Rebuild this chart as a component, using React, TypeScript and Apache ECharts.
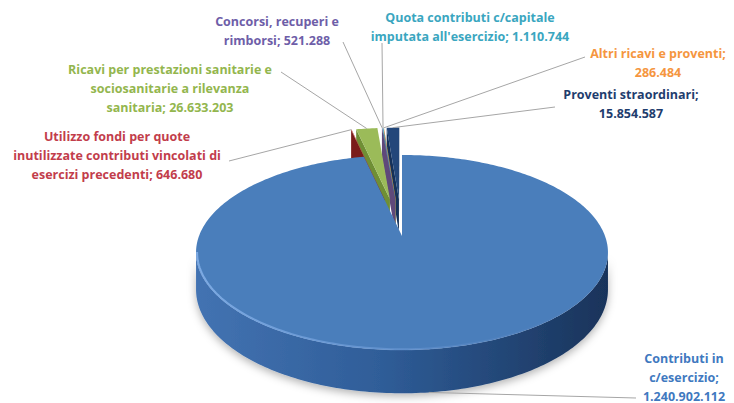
import React, { useEffect, useRef } from "react";
import * as echarts from "echarts";

// ---- data ----
const categories: string[] = [
  "Contributi in c/esercizio",
  "Utilizzo fondi per quote inutilizzate contributi vincolati di esercizi precedenti",
  "Ricavi per prestazioni sanitarie e sociosanitarie a rilevanza sanitaria",
  "Concorsi, recuperi e rimborsi",
  "Quota contributi c/capitale imputata all'esercizio",
  "Altri ricavi e proventi",
  "Proventi straordinari",
];
const values: number[] = [1240902112, 646680, 26633203, 521288, 1110744, 286484, 15854587];

// wrapped label names (as in the chart) and separator before the value
const labelNames: string[] = [
  "Contributi in\nc/esercizio;",
  "Utilizzo fondi per quote\ninutilizzate contributi vincolati di\nesercizi precedenti;",
  "Ricavi per prestazioni sanitarie e\nsociosanitarie a rilevanza\nsanitaria;",
  "Concorsi, recuperi e\nrimborsi;",
  "Quota contributi c/capitale\nimputata all'esercizio;",
  "Altri ricavi e proventi;",
  "Proventi straordinari;",
];
const valueSeparators: string[] = ["\n", " ", " ", " ", " ", "\n", "\n"];

// ---- styles / layout ----
const topColors = ["#4A7EBB", "#C0504D", "#9BBB59", "#8064A2", "#4BACC6", "#F79646", "#23477A"];
const sideColors = ["#2F5D98", "#7A1C1A", "#6F8F35", "#5F497A", "#31859C", "#E46C0A", "#15325A"];
const labelColors = ["#3F79BF", "#C23D4B", "#93B64E", "#6E5EA8", "#3AA6C0", "#F5963F", "#1F3D6E"];
// label centre x, first line middle y, leader start x,y
const labelLayout: number[][] = [
  [684, 358, 636, 398],
  [117, 136, 229, 161],
  [170, 69, 281, 72],
  [277, 21, 343, 42],
  [470, 17, 382, 43],
  [658, 53, 585, 57],
  [631, 94, 555, 107],
];

const CX = 402, CY = 236, BX = 203, AY = 94.7, KP = 0.169, DEPTH = 36, EXPLODE = 0.42;
const LINE_H = 19;

function project(u: number, v: number, h: number): [number, number] {
  const d = 1 - KP * v;
  return [CX + (BX * u) / d, CY + (AY * v + DEPTH * h) / d];
}

function fmt(v: number): string {
  return String(v).replace(/\B(?=(\d{3})+(?!\d))/g, ".");
}

export default function App() {
  const ref = useRef<HTMLDivElement>(null);
  useEffect(() => {
    if (!ref.current) return;
    const chart = echarts.init(ref.current, undefined, { renderer: "svg" });
    const total = values.reduce((a, b) => a + b, 0);
    const angles: number[][] = [];
    let acc = 0;
    values.forEach((v) => {
      angles.push([(acc / total) * Math.PI * 2, ((acc + v) / total) * Math.PI * 2]);
      acc += v;
    });

    const renderItem = (params: any, api: any) => {
      const i = params.dataIndex;
      const [a0, a1] = angles[i];
      const mid = (a0 + a1) / 2;
      const e = i === 0 ? 0 : EXPLODE;
      const ou = e * Math.sin(mid), ov = -e * Math.cos(mid);
      const P = (th: number, r: number, h: number) =>
        project(r * Math.sin(th) + ou, -r * Math.cos(th) + ov, h);
      const n = Math.max(2, Math.ceil((a1 - a0) / (Math.PI / 180)));
      const ths: number[] = [];
      for (let j = 0; j <= n; j++) ths.push(a0 + ((a1 - a0) * j) / n);
      const big = i === 0;
      const sideZ = big ? 50 : 10 + (10 - i);
      const topZ = big ? 60 : 30 + i;
      const children: any[] = [];

      // outer wall visible runs
      const runs: number[][] = [];
      let cur: number[] | null = null;
      for (let j = 0; j < n; j++) {
        const t0 = P(ths[j], 1, 0), t1 = P(ths[j + 1], 1, 0), b0 = P(ths[j], 1, 1);
        const cross = (t1[0] - t0[0]) * (b0[1] - t0[1]) - (t1[1] - t0[1]) * (b0[0] - t0[0]);
        if (cross < 0) {
          if (!cur) { cur = [j]; runs.push(cur); }
          cur.push(j + 1);
        } else cur = null;
      }
      runs.forEach((run) => {
        const pts: number[][] = [];
        run.forEach((j) => pts.push(P(ths[j], 1, 0)));
        for (let q = run.length - 1; q >= 0; q--) pts.push(P(ths[run[q]], 1, 1));
        children.push({
          type: "polygon",
          z2: sideZ,
          shape: { points: pts },
          style: {
            fill: big
              ? new echarts.graphic.LinearGradient(0, 0, 1, 0, [
                  { offset: 0, color: "#4373B2" },
                  { offset: 0.45, color: "#2F5D98" },
                  { offset: 1, color: "#19335A" },
                ])
              : sideColors[i],
            shadowBlur: big ? 8 : 0,
            shadowOffsetY: big ? 3 : 0,
            shadowColor: "rgba(0,0,0,0.3)",
          },
        });
        if (big) {
          children.push({
            type: "polyline",
            z2: topZ + 1,
            shape: { points: run.map((j) => P(ths[j], 0.995, 0)) },
            style: {
              fill: null,
              lineWidth: 2,
              stroke: new echarts.graphic.LinearGradient(0, 0, 1, 0, [
                { offset: 0, color: "rgba(130,175,232,0.9)" },
                { offset: 0.5, color: "rgba(110,155,215,0.6)" },
                { offset: 1, color: "rgba(80,120,180,0)" },
              ]),
            },
          });
        }
      });

      // radial faces
      const C0 = project(ou, ov, 0), C1 = project(ou, ov, 1);
      const down = [C1[0] - C0[0], C1[1] - C0[1]];
      [a0, a1].forEach((a, k) => {
        const Pt = P(a, 1, 0), Pb = P(a, 1, 1);
        const vec = k === 0 ? [Pt[0] - C0[0], Pt[1] - C0[1]] : [C0[0] - Pt[0], C0[1] - Pt[1]];
        const cross = vec[0] * down[1] - vec[1] * down[0];
        if (cross < 0) {
          children.push({
            type: "polygon",
            z2: sideZ,
            shape: { points: [C0, Pt, Pb, C1] },
            style: { fill: sideColors[i] },
          });
        }
      });

      // top face
      children.push({
        type: "polygon",
        z2: topZ,
        shape: { points: [C0, ...ths.map((t) => P(t, 1, 0))] },
        style: { fill: topColors[i] },
      });

      // leader line + label
      const lay = labelLayout[i];
      const anchor = big ? P(mid, 1, 1) : P(mid, 1, 0);
      children.push({
        type: "polyline",
        z2: 70,
        shape: { points: [[lay[2], lay[3]], anchor] },
        style: { fill: null, stroke: "#A6A6A6", lineWidth: 1 },
      });
      const text = labelNames[i] + valueSeparators[i] + fmt(api.value(0));
      children.push({
        type: "text",
        z2: 80,
        style: {
          text,
          x: lay[0],
          y: lay[1] - LINE_H / 2,
          fill: labelColors[i],
          font: "bold 12.5px 'Open Sans'",
          fontFamily: "Open Sans",
          fontWeight: "bold",
          fontSize: 12.5,
          align: "center",
          textAlign: "center",
          verticalAlign: "top",
          textVerticalAlign: "top",
          lineHeight: LINE_H,
        },
      });
      return { type: "group", children };
    };

    chart.setOption({
      animation: false,
      backgroundColor: "#FFFFFF",
      series: [
        {
          type: "custom",
          name: "Ricavi",
          coordinateSystem: "none",
          renderItem,
          data: values.map((v, i) => ({ name: categories[i], value: [v, i] })),
        },
      ],
    });
    return () => chart.dispose();
  }, []);
  return (
    <div
      ref={ref}
      style={{ position: "fixed", left: 0, top: 0, width: 734, height: 403, background: "#fff" }}
    />
  );
}
